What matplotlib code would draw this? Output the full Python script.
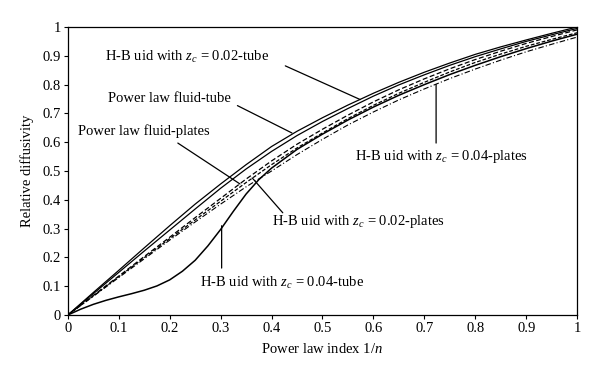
import matplotlib
matplotlib.use("Agg")
import matplotlib.pyplot as plt

plt.rcParams['font.family'] = ['Liberation Serif', 'DejaVu Serif']
plt.rcParams['mathtext.fontset'] = 'custom'
plt.rcParams['mathtext.it'] = 'Liberation Serif:italic'
plt.rcParams['mathtext.rm'] = 'Liberation Serif'

# power law index 1/n
x = [0, 0.05, 0.1, 0.15, 0.2, 0.25, 0.3, 0.35, 0.4, 0.45, 0.5, 0.55, 0.6, 0.65,
     0.7, 0.75, 0.8, 0.85, 0.9, 0.95, 1.0]

# relative diffusivity
pl_tube = [0, 0.078, 0.155, 0.233, 0.31, 0.385, 0.455, 0.522, 0.585, 0.638, 0.685,
           0.729, 0.77, 0.808, 0.843, 0.875, 0.905, 0.931, 0.955, 0.978, 1.0]
hb02_tube = [0, 0.074, 0.148, 0.222, 0.295, 0.368, 0.44, 0.507, 0.568, 0.623, 0.672,
             0.717, 0.76, 0.799, 0.834, 0.867, 0.897, 0.924, 0.95, 0.973, 0.995]
pl_plates = [0, 0.068, 0.135, 0.203, 0.27, 0.338, 0.405, 0.472, 0.535, 0.593, 0.645,
             0.694, 0.74, 0.782, 0.82, 0.855, 0.887, 0.916, 0.943, 0.967, 0.99]
hb02_plates = [0, 0.066, 0.133, 0.199, 0.265, 0.33, 0.395, 0.46, 0.522, 0.58, 0.632,
               0.682, 0.728, 0.77, 0.808, 0.844, 0.877, 0.906, 0.933, 0.957, 0.98]
hb04_plates = [0, 0.065, 0.13, 0.195, 0.26, 0.323, 0.385, 0.445, 0.5, 0.557, 0.61,
               0.66, 0.705, 0.747, 0.785, 0.821, 0.854, 0.885, 0.914, 0.94, 0.965]

# the lower tube curve needs a finer read
x_fine = [0, 0.025, 0.05, 0.075, 0.1, 0.125, 0.15, 0.175, 0.2, 0.225, 0.25, 0.275,
          0.3, 0.325, 0.35, 0.375, 0.4, 0.45, 0.5, 0.55, 0.6, 0.65, 0.7, 0.75,
          0.8, 0.85, 0.9, 0.95, 1.0]
hb04_tube = [0, 0.02, 0.037, 0.051, 0.063, 0.074, 0.086, 0.101, 0.122, 0.152, 0.19,
             0.24, 0.297, 0.36, 0.42, 0.47, 0.51, 0.575, 0.628, 0.677, 0.722, 0.763,
             0.8, 0.835, 0.867, 0.897, 0.925, 0.951, 0.975]

xticks = [0, 0.1, 0.2, 0.3, 0.4, 0.5, 0.6, 0.7, 0.8, 0.9, 1]
xtick_labels = ['0', '0.1', '0.2', '0.3', '0.4', '0.5', '0.6', '0.7', '0.8', '0.9', '1']

fig = plt.figure(figsize=(6, 3.8), dpi=100)
ax = fig.add_axes([0.113, 0.171, 0.849, 0.758])

ax.plot(x, pl_tube, color='black', lw=0.9)
ax.plot(x, hb02_tube, color='black', lw=0.9)
ax.plot(x_fine, hb04_tube, color='black', lw=1.1)
ax.plot(x, pl_plates, color='black', lw=0.9, dashes=(4, 2))
ax.plot(x, hb02_plates, color='black', lw=0.9, dashes=(3, 1.5))
ax.plot(x, hb04_plates, color='black', lw=0.8, dashes=(5, 2, 1, 2))

ax.set_xlim(0, 1)
ax.set_ylim(0, 1)
ax.set_xticks(xticks)
ax.set_xticklabels(xtick_labels)
ax.set_yticks(xticks)
ax.set_yticklabels(xtick_labels)
ax.tick_params(direction='out', length=3, width=0.8, labelsize=10.5, pad=2)
for s in ax.spines.values():
    s.set_linewidth(0.9)

ax.set_xlabel('Power law index 1/$n$', fontsize=10.5, labelpad=5)
ax.set_ylabel('Relative diffusivity', fontsize=10.5, labelpad=6)

arrow = dict(arrowstyle='-', color='black', lw=0.9, shrinkA=0, shrinkB=0)
fs = 10.5
ax.text(0.073, 0.896, 'H-B uid with $z_c$ = 0.02-tube', fontsize=fs, va='center', ha='left')
ax.annotate('', xy=(0.574, 0.748), xytext=(0.427, 0.865), arrowprops=arrow)

ax.text(0.079, 0.753, 'Power law fluid-tube', fontsize=fs, va='center', ha='left')
ax.annotate('', xy=(0.44, 0.632), xytext=(0.333, 0.727), arrowprops=arrow)

ax.text(0.02, 0.639, 'Power law fluid-plates', fontsize=fs, va='center', ha='left')
ax.annotate('', xy=(0.338, 0.455), xytext=(0.216, 0.597), arrowprops=arrow)

ax.text(0.40, 0.326, 'H-B uid with $z_c$ = 0.02-plates', fontsize=fs, va='center', ha='left')
ax.annotate('', xy=(0.362, 0.476), xytext=(0.422, 0.355), arrowprops=arrow)

ax.text(0.26, 0.111, 'H-B uid with $z_c$ = 0.04-tube', fontsize=fs, va='center', ha='left')
ax.annotate('', xy=(0.302, 0.31), xytext=(0.302, 0.163), arrowprops=arrow)

ax.text(0.564, 0.552, 'H-B uid with $z_c$ = 0.04-plates', fontsize=fs, va='center', ha='left')
ax.annotate('', xy=(0.723, 0.80), xytext=(0.723, 0.597), arrowprops=arrow)

fig.savefig('out.png', dpi=100)
